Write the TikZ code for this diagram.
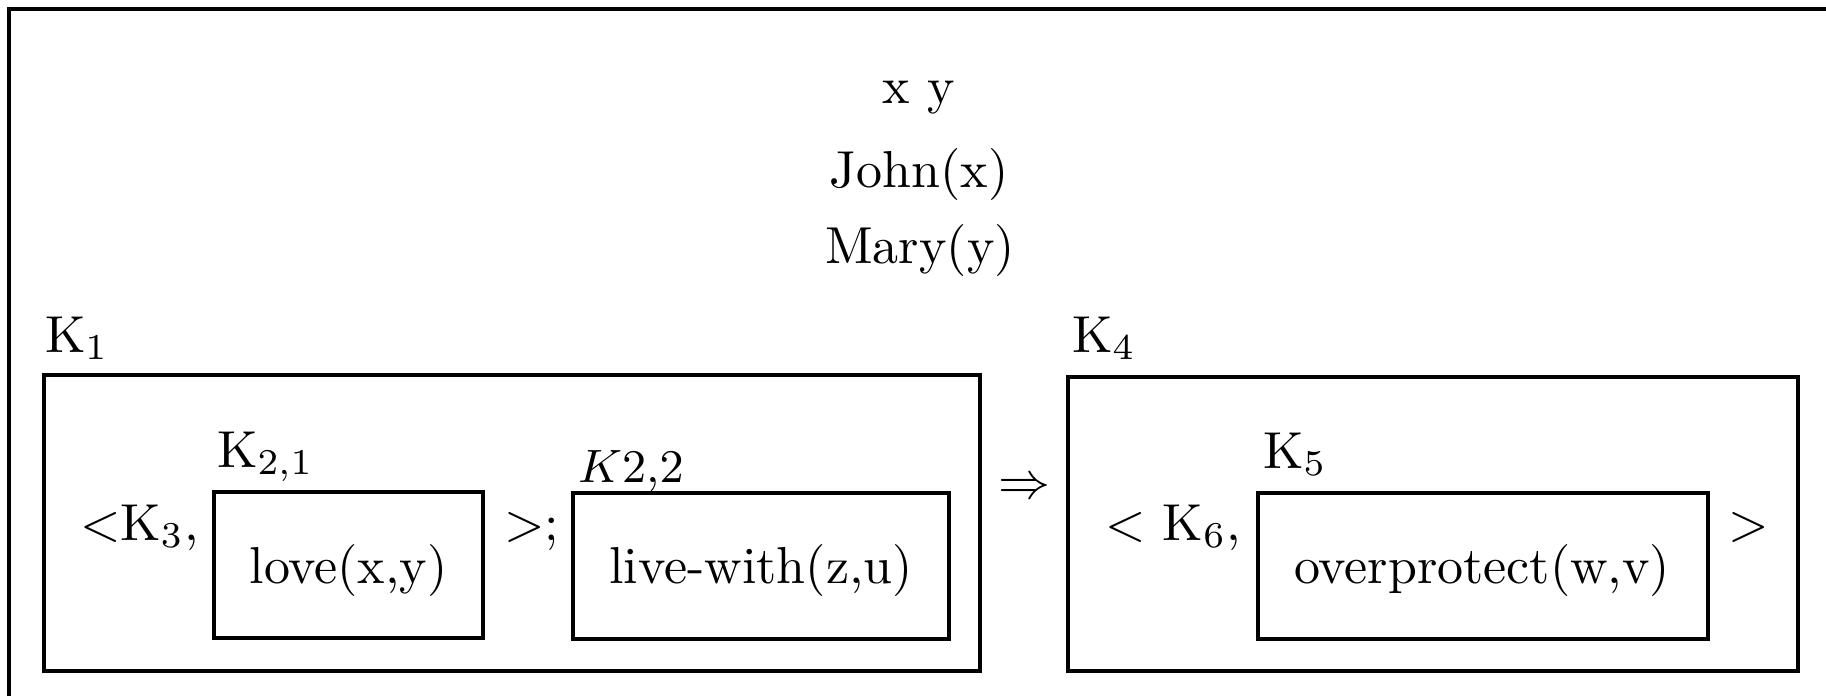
\documentclass[tikz,border=0pt]{standalone}
\usetikzlibrary{fit}
\begin{document}
\begin{tikzpicture}[x=0.1923pt,y=-0.1923pt,
  lbl/.style={inner sep=0pt,anchor=base west},
  txt/.style={inner sep=0pt,anchor=base},
  boxn/.style={draw,line width=0.6pt,inner sep=0pt}]
\useasboundingbox (0,0) rectangle (1826,696);
% outer frame (cropped: only left and top edges visible)
\draw[line width=0.6pt] (9,696) -- (9,9) -- (1826,9);
% top declarations
\node[txt] (xy) at (919,103) {x y};
\node[txt] (john) at (919,187) {John(x)};
\node[txt] (mary) at (920,263) {Mary(y)};
% K1 box
\node[lbl] (k1lbl) at (44,352) {K$_1$};
\node[boxn,fit={(44,375) (980,671)}] (k1) {};
\node[lbl] (k3) at (79,540) {$<$K$_3$,};
\node[lbl] (k21lbl) at (216,467) {K$_{2,1}$};
\node[boxn,fit={(214,492) (483,638)}] (love) {};
\node[txt] (lovet) at (348.5,583) {love(x,y)};
\node[lbl] (close1) at (503,540) {$>$;};
\node[lbl] (k22lbl) at (577,482) {\small $K2{,}2$};
\node[boxn,fit={(573,493) (949,639)}] (live) {};
\node[txt] (livet) at (761,583) {live-with(z,u)};
% implication
\node[txt] (impl) at (1024,498) {$\Rightarrow$};
% K4 box
\node[lbl] (k4lbl) at (1071,352) {K$_4$};
\node[boxn,fit={(1068,377) (1798,671)}] (k4) {};
\node[lbl] (k6) at (1104,540) {$<$ K$_6$,};
\node[lbl] (k5lbl) at (1262,468) {K$_5$};
\node[boxn,fit={(1258,493) (1708,639)}] (over) {};
\node[txt] (overt) at (1482,583) {overprotect(w,v)};
\node[lbl] (close2) at (1727,540) {$>$};
\end{tikzpicture}
\end{document}
